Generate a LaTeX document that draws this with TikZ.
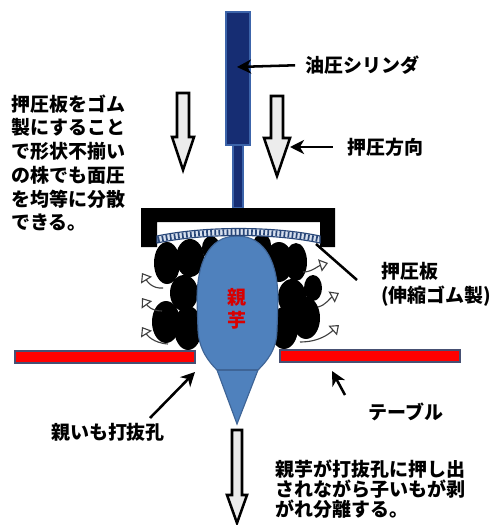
\documentclass[tikz,border=0pt]{standalone}
\usepackage{fontspec}
\setmainfont{Noto Sans CJK JP}
\usepackage{xcolor}
\usetikzlibrary{arrows.meta,decorations.markings}
\definecolor{cylblue}{RGB}{22,45,115}
\definecolor{cyledge}{RGB}{60,100,170}
\definecolor{taroblue}{RGB}{79,129,189}
\definecolor{taroedge}{RGB}{62,100,150}
\definecolor{tableedge}{RGB}{70,80,115}
\definecolor{rubber}{RGB}{215,224,238}
\definecolor{rubbertick}{RGB}{40,70,120}

\begin{document}
\begin{tikzpicture}[x=0.025cm, y=-0.025cm,
  jtext/.style={font=\bfseries\fontsize{13.5}{16.9}\selectfont, inner sep=0pt, align=left},
  jnote/.style={font=\bfseries\fontsize{13.5}{14.3}\selectfont, inner sep=0pt, align=left},
  pointer/.style={-{Stealth[length=10pt,width=10pt,inset=3pt]}, line width=1.8pt},
  pressarrow/.style={draw=black, line width=1.8pt, fill=gray!15, line join=miter},
  spread/.style={-{Triangle[open,length=6pt,width=9pt]}, line width=0.8pt, black!75},
  tablebar/.style={fill=red, draw=tableedge, line width=1.4pt}]
  \useasboundingbox (0,0) rectangle (496,525);

  % cylinder and rod
  \draw[cyledge, fill=cylblue, line width=1pt] (233,145) rectangle (243,208);
  \draw[cyledge, fill=cylblue, line width=1.2pt] (226,12) rectangle (250,145);

  % small potatoes around the mother tuber
  \foreach \cx/\cy/\rx/\ry in {167/263/13/21, 190/258/14/19, 211/248/9/12, 184/293/14/18,
      166/322/14/21, 188/328/14/22, 262/245/9/11, 279/262/14/20, 296/262/11/19,
      292/297/14/18, 313/288/9/13, 284/328/14/21, 306/318/14/21}
    \fill (\cx,\cy) ellipse [x radius=\rx, y radius=\ry];

  % mother tuber
  \draw[taroedge, fill=taroblue, line width=0.8pt]
    (237,236) .. controls (208,236) and (197,264) .. (197,300) -- (198,330)
    .. controls (199,350) and (209,362) .. (217,370) -- (237,424) -- (258,370)
    .. controls (266,362) and (277,350) .. (277,330) -- (278,300)
    .. controls (278,264) and (266,236) .. (237,236) -- cycle;
  \draw[taroedge, line width=0.8pt] (217,370) -- (258,370);
  \node[font=\bfseries\fontsize{13.5}{16.5}\selectfont, text=red!85!black, align=center, inner sep=0pt]
    (oyaimo) at (237,309) {親\\芋};

  % table
  \draw[tablebar] (15,351) rectangle (195,363);
  \draw[tablebar] (280,350) rectangle (460,362);

  % press frame and rubber plate
  \fill (141,208) -- (335,208) -- (335,247) -- (320,247) -- (320,222) -- (157,222)
    -- (157,247) -- (141,247) -- cycle;
  \draw[rubbertick, fill=rubber, line width=0.8pt]
    (157,236) .. controls (205,226) and (273,226) .. (320,236) -- (320,243)
    .. controls (273,233) and (205,233) .. (157,243) -- cycle;
  \path[decorate, decoration={markings,
      mark=between positions 0.01 and 0.99 step 2.9pt with {\fill[rubbertick] (-0.6pt,-2pt) rectangle (0.6pt,2pt);}}]
    (157,239.5) .. controls (205,229.5) and (273,229.5) .. (320,239.5);

  % press direction and discharge arrows
  \foreach \cx/\top/\neck/\tip/\sw/\hw in {183/93/137/170/6/11, 277/96/138/176/6/13, 237/430/495/523/5/10}
    \draw[pressarrow] (\cx-\sw,\top) -- (\cx+\sw,\top) -- (\cx+\sw,\neck) -- (\cx+\hw,\neck)
      -- (\cx,\tip) -- (\cx-\hw,\neck) -- (\cx-\sw,\neck) -- cycle;

  % potatoes pushed outward
  \draw[spread] (163,288) .. controls (152,289) and (147,281) .. (142,273);
  \draw[spread] (162,311) .. controls (151,311) and (147,305) .. (142,298);
  \draw[spread] (168,344) .. controls (153,343) and (147,335) .. (142,327);
  \draw[spread] (303,272) .. controls (312,272) and (318,266) .. (328,263);
  \draw[spread] (318,307) .. controls (326,305) and (330,298) .. (339,293);
  \draw[spread] (300,342) .. controls (320,342) and (330,333) .. (339,325);

  % texts
  \node[jtext, anchor=west] (cylTxt) at (305,65) {油圧シリンダ};
  \node[jtext, anchor=west] (dirTxt) at (347,147) {押圧方向};
  \node[jtext, anchor=west] (leftTxt) at (11,163)
    {押圧板をゴム\\製にすること\\で形状不揃い\\の株でも面圧\\を均等に分散\\できる。};
  \node[jtext, anchor=west] (plateTxt) at (381,284) {押圧板\\(伸縮ゴム製)};
  \node[jtext] (tblTxt) at (406,412) {テーブル};
  \node[jtext] (holeTxt) at (108,432) {親いも打抜孔};
  \node[jnote, anchor=west] (resultTxt) at (275,489)
    {親芋が打抜孔に押し出\\されながら子いもが剥\\がれ分離する。};

  % pointers
  \coordinate (cylTip) at (237,67);
  \coordinate (dirTip) at (290,147);
  \coordinate (plateTip) at (316,244);
  \coordinate (plateTail) at (357,280);
  \coordinate (tblTip) at (332,371);
  \coordinate (tblTail) at (345,395);
  \coordinate (holeTip) at (195,372);
  \coordinate (holeTail) at (150,418);
  \draw[pointer, shorten <=7pt] (cylTxt.west) -- (cylTip);
  \draw[pointer, shorten <=10pt] (dirTxt.west) -- (dirTip);
  \draw[line width=1.8pt] (plateTail) -- (plateTip);
  \draw[pointer] (tblTail) -- (tblTip);
  \draw[pointer] (holeTail) -- (holeTip);
\end{tikzpicture}
\end{document}
